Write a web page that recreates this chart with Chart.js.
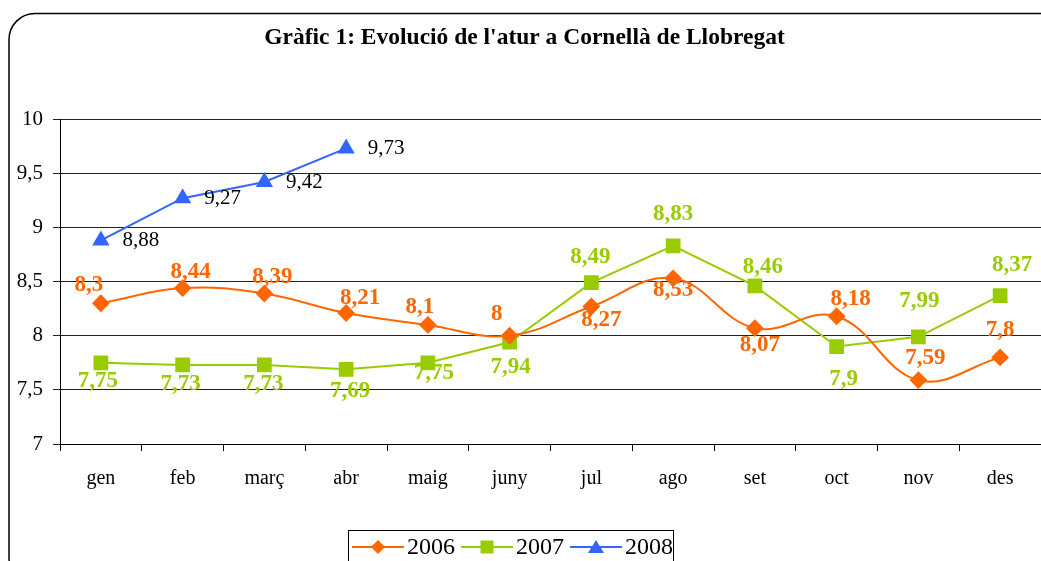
<!DOCTYPE html>
<html>
<head>
<meta charset="utf-8">
<script src="https://cdn.jsdelivr.net/npm/chart.js@4"></script>
<style>
  body { margin: 0; background: #fff; }
  canvas { display: block; }
</style>
</head>
<body>
<canvas id="myChart" width="1041" height="561"></canvas>
<script>
const ctx = document.getElementById('myChart');

// dades
const mesos = ['gen', 'feb', 'març', 'abr', 'maig', 'juny', 'jul', 'ago', 'set', 'oct', 'nov', 'des'];
const anys = ['2006', '2007', '2008'];
const atur2006 = [8.3, 8.44, 8.39, 8.21, 8.1, 8, 8.27, 8.53, 8.07, 8.18, 7.59, 7.8];
const atur2007 = [7.75, 7.73, 7.73, 7.69, 7.75, 7.94, 8.49, 8.83, 8.46, 7.9, 7.99, 8.37];
const atur2008 = [8.88, 9.27, 9.42, 9.73];
const titol = "Gràfic 1: Evolució de l'atur a Cornellà de Llobregat";

// colors
const taronja = '#FF6600';
const verd = '#99CC00';
const blau = '#3366FF';

// desplaçament de les etiquetes [dx, dy] respecte del punt
const despl2006 = [[-12,-18],[8,-16],[8,-16],[14,-15],[-8,-18],[-13,-22],[10,14],[0,12],[5,17],[14,-17],[7,-22],[0,-27]];
const despl2007 = [[-3,18],[-2,19],[-1,19],[4,22],[6,10],[1,25],[-1,-26],[0,-32],[8,-19],[7,33],[1,-36],[12,-31]];
const despl2008 = [[40,0],[40,0],[40,0],[40,0]];

const coma = v => String(v).replace('.', ',');

const etiquetes = {
  id: 'etiquetes',
  afterDatasetsDraw(chart) {
    const c = chart.ctx;
    const desps = [despl2006, despl2007, despl2008];
    chart.data.datasets.forEach((ds, i) => {
      const meta = chart.getDatasetMeta(i);
      meta.data.forEach((p, j) => {
        const d = desps[i][j];
        c.save();
        c.textAlign = 'center';
        c.textBaseline = 'middle';
        if (i === 2) {
          c.font = '21px "Liberation Serif"';
          c.fillStyle = '#000';
        } else {
          c.font = 'bold 23px "Liberation Serif"';
          c.fillStyle = ds.borderColor;
        }
        c.fillText(coma(ds.data[j]), p.x + d[0], p.y + d[1]);
        c.restore();
      });
    });
  }
};

const marc = {
  id: 'marc',
  beforeDraw(chart) {
    const c = chart.ctx;
    c.save();
    c.fillStyle = '#fff';
    c.fillRect(0, 0, chart.width, chart.height);
    c.strokeStyle = '#000';
    c.lineWidth = 1.5;
    c.beginPath();
    c.roundRect(9, 13.5, 1060, 570, 26);
    c.stroke();
    c.restore();
  },
  afterDraw(chart) {
    // llegenda amb requadre
    const c = chart.ctx;
    const x0 = 348, y0 = 530;
    c.save();
    c.fillStyle = '#fff';
    c.fillRect(x0, y0, 325, 40);
    c.strokeStyle = '#000';
    c.lineWidth = 1;
    c.strokeRect(x0 + 0.5, y0 + 0.5, 325, 40);
    const cy = 547;
    const items = [
      { x: 352, color: taronja, forma: 'rombe' },
      { x: 461, color: verd, forma: 'quadrat' },
      { x: 570, color: blau, forma: 'triangle' }
    ];
    items.forEach((it, k) => {
      c.strokeStyle = it.color;
      c.fillStyle = it.color;
      c.lineWidth = 2;
      c.beginPath();
      c.moveTo(it.x, cy);
      c.lineTo(it.x + 52, cy);
      c.stroke();
      const mx = it.x + 26;
      c.beginPath();
      if (it.forma === 'rombe') {
        c.moveTo(mx, cy - 7); c.lineTo(mx + 7, cy); c.lineTo(mx, cy + 7); c.lineTo(mx - 7, cy);
      } else if (it.forma === 'quadrat') {
        c.rect(mx - 6.5, cy - 6.5, 13, 13);
      } else {
        c.moveTo(mx, cy - 7); c.lineTo(mx + 8, cy + 6); c.lineTo(mx - 8, cy + 6);
      }
      c.closePath();
      c.fill();
      c.fillStyle = '#000';
      c.font = '24px "Liberation Serif"';
      c.textAlign = 'left';
      c.textBaseline = 'middle';
      c.fillText(anys[k], it.x + 55, cy + 1);
    });
    c.restore();
  }
};

new Chart(ctx, {
  type: 'line',
  data: {
    labels: mesos,
    datasets: [
      {
        label: anys[0],
        data: atur2006,
        borderColor: taronja,
        backgroundColor: taronja,
        borderWidth: 2,
        tension: 0.4,
        pointStyle: 'rectRot',
        pointRadius: 7.5,
        pointHoverRadius: 7.5
      },
      {
        label: anys[1],
        data: atur2007,
        borderColor: verd,
        backgroundColor: verd,
        borderWidth: 2,
        tension: 0,
        pointStyle: 'rect',
        pointRadius: 9,
        pointHoverRadius: 9
      },
      {
        label: anys[2],
        data: atur2008,
        borderColor: blau,
        backgroundColor: blau,
        borderWidth: 2,
        tension: 0,
        pointStyle: 'triangle',
        pointRadius: 8,
        pointHoverRadius: 8
      }
    ]
  },
  options: {
    responsive: false,
    animation: false,
    layout: { autoPadding: false, padding: { left: 8, right: 0, top: 0, bottom: 0 } },
    plugins: {
      legend: { display: false },
      tooltip: { enabled: false },
      title: {
        display: true,
        text: titol,
        color: '#000',
        font: { family: 'Liberation Serif', size: 23.5, weight: 'bold', lineHeight: 1.2 },
        padding: { top: 24, bottom: 67 }
      }
    },
    scales: {
      x: {
        offset: true,
        afterFit: s => { s.height = 117; s.paddingLeft = 0; s.paddingRight = 0; },
        grid: {
          offset: true,
          drawOnChartArea: false,
          tickLength: 7,
          color: '#000'
        },
        border: { color: '#000', width: 1 },
        ticks: {
          color: '#000',
          padding: 16,
          font: { family: 'Liberation Serif', size: 20 }
        }
      },
      y: {
        min: 7,
        max: 10,
        afterFit: s => { s.width = 52; },
        grid: {
          color: '#222',
          tickLength: 7
        },
        border: { color: '#000', width: 1 },
        ticks: {
          stepSize: 0.5,
          color: '#000',
          padding: 10,
          font: { family: 'Liberation Serif', size: 21 },
          callback: v => coma(v)
        }
      }
    }
  },
  plugins: [marc, etiquetes]
});
</script>
</body>
</html>
